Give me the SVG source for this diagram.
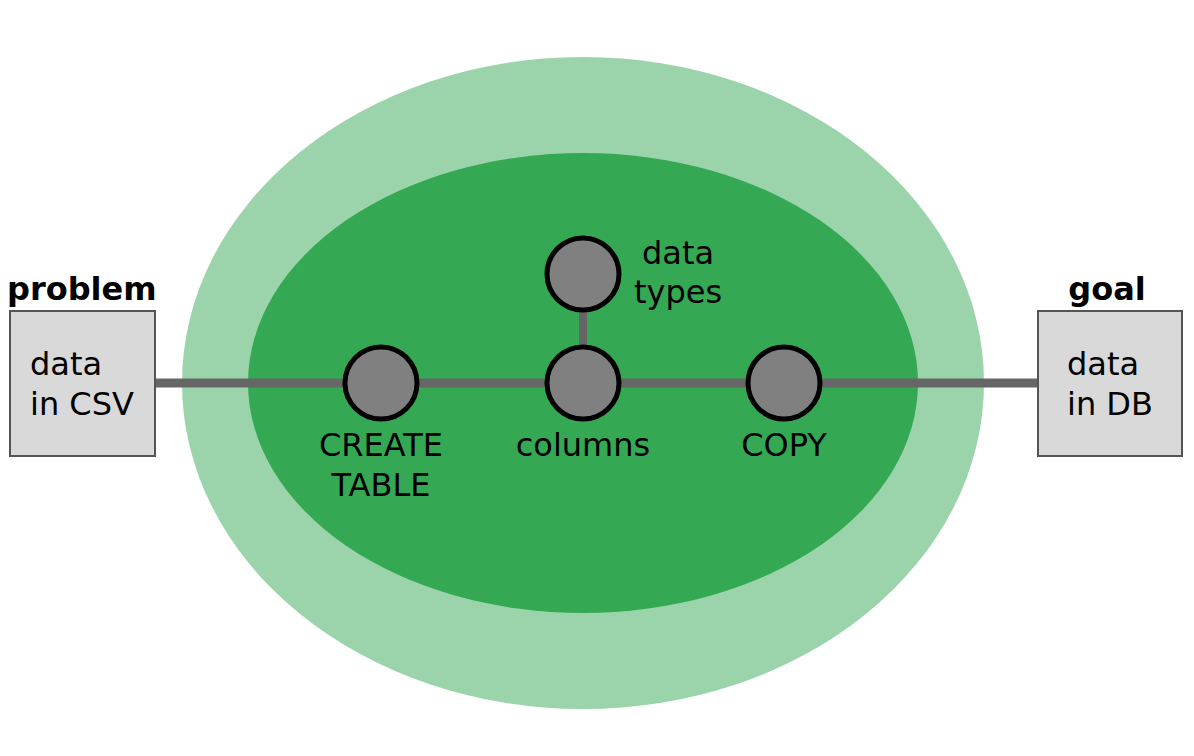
<svg xmlns="http://www.w3.org/2000/svg" width="1194" height="756" viewBox="0 0 1194 756">
<style>
text{font-family:"DejaVu Sans","Liberation Sans",sans-serif;font-size:32px;fill:#000}
.b{font-weight:bold}
.m{text-anchor:middle}
.box{fill:#d9d9d9;stroke:#555;stroke-width:2}
.node{fill:#808080;stroke:#000;stroke-width:5}
.link{stroke:#666;fill:none}
</style>
<rect width="1194" height="756" fill="#fff"/>
<g id="outer"><ellipse cx="583" cy="383" rx="401" ry="326" fill="#9bd4aa"/></g>
<g id="inner"><ellipse cx="583" cy="383" rx="335" ry="230" fill="#35a854"/></g>
<g id="connectors">
<line class="link" x1="155" y1="383" x2="1038" y2="383" stroke-width="9"/>
<line class="link" x1="583" y1="274" x2="583" y2="383" stroke-width="8"/>
</g>
<g id="problem">
<text class="b" x="7" y="300">problem</text>
<rect class="box" x="10" y="311" width="145" height="145"/>
<text x="30" y="375">data</text>
<text x="30" y="415">in CSV</text>
</g>
<g id="goal">
<text class="b m" x="1107" y="300">goal</text>
<rect class="box" x="1038" y="311" width="144" height="145"/>
<text x="1067" y="375">data</text>
<text x="1067" y="415">in DB</text>
</g>
<g id="create-table">
<circle class="node" cx="381" cy="383" r="36"/>
<text class="m" x="381" y="456">CREATE</text>
<text class="m" x="381" y="496">TABLE</text>
</g>
<g id="columns">
<circle class="node" cx="583" cy="383" r="36"/>
<text class="m" x="583" y="456">columns</text>
</g>
<g id="data-types">
<circle class="node" cx="583" cy="274" r="36"/>
<text class="m" x="678" y="264">data</text>
<text class="m" x="678" y="303">types</text>
</g>
<g id="copy">
<circle class="node" cx="784" cy="383" r="36"/>
<text class="m" x="784" y="456">COPY</text>
</g>
</svg>
